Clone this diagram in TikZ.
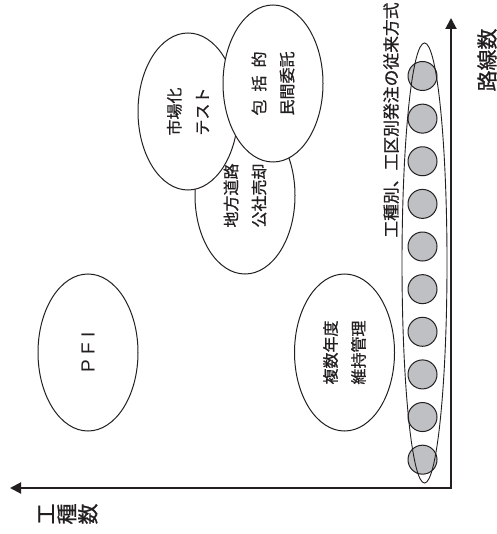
\documentclass[tikz,border=0pt]{standalone}
\usepackage{fontspec}
\newfontfamily\jp[FakeBold=0.8]{Noto Sans CJK JP}
\newfontfamily\lat{Liberation Sans}
\usetikzlibrary{shapes.geometric, arrows.meta}
\definecolor{ink}{RGB}{35,31,32}
\definecolor{dotfill}{RGB}{191,192,195}
\begin{document}
\begin{tikzpicture}[x=1pt, y=-1pt,
  bubble/.style={ellipse, draw=ink, line width=1pt, fill=white, minimum width=157pt, minimum height=100pt, inner sep=0pt, rotate=90, align=center, text=ink, font=\jp\fontsize{16}{28}\selectfont},
  dot/.style={circle, draw=ink, line width=1pt, fill=dotfill, minimum size=29pt, inner sep=0pt},
  band/.style={ellipse, draw=ink, line width=0.9pt, minimum width=440pt, minimum height=45pt, inner sep=0pt, rotate=90},
  axis/.style={draw=ink, line width=2pt, line join=miter, {Triangle[length=11pt,width=11pt]}-{Triangle[length=11pt,width=11pt]}},
  lbl/.style={rotate=90, inner sep=0pt, text=ink, align=center}
]
\useasboundingbox (0,0) rectangle (496,534);
\fill[white] (0,0) rectangle (496,534);

% dots of the conventional method
\foreach \i in {1,...,10}{
  \node[dot] (c\i) at (422.5, {76+42.63*(\i-1)}) {};
}
\node[band] (band) at (424.5, 263) {};
\node[lbl, font=\jp\fontsize{16.8}{20}\selectfont] (bandlabel) at (391, 120) {工種別、工区別発注の従来方式};

% bubbles
\node[bubble] (chiho) at (245, 195.5) {地方道路\\公社売却};
\node[bubble] (shijo) at (188, 111.5) {市場化\\テスト};
\node[bubble] (hokatsu) at (273, 83.5) {\makebox[4em][s]{包\hfil 括\hfil 的}\\民間委託};
\node[bubble, font=\lat\fontsize{19}{19}\selectfont] (pfi) at (88, 352.5) {P F I};
\node[bubble] (fukusu) at (344.5, 352.5) {複数年度\\維持管理};

% axes
\coordinate (O) at (451, 488);
\coordinate (ytip) at (451, 18);
\coordinate (xtip) at (10, 488);
\draw[axis] (ytip) -- (O) -- (xtip);
\node[lbl, font=\jp\fontsize{21}{21}\selectfont] (ylabel) at (487, 60) {路線数};
\node[lbl, font=\jp\fontsize{21}{21}\selectfont] (xlabel) at (68, 514) {工\\種\\数};
\end{tikzpicture}
\end{document}
